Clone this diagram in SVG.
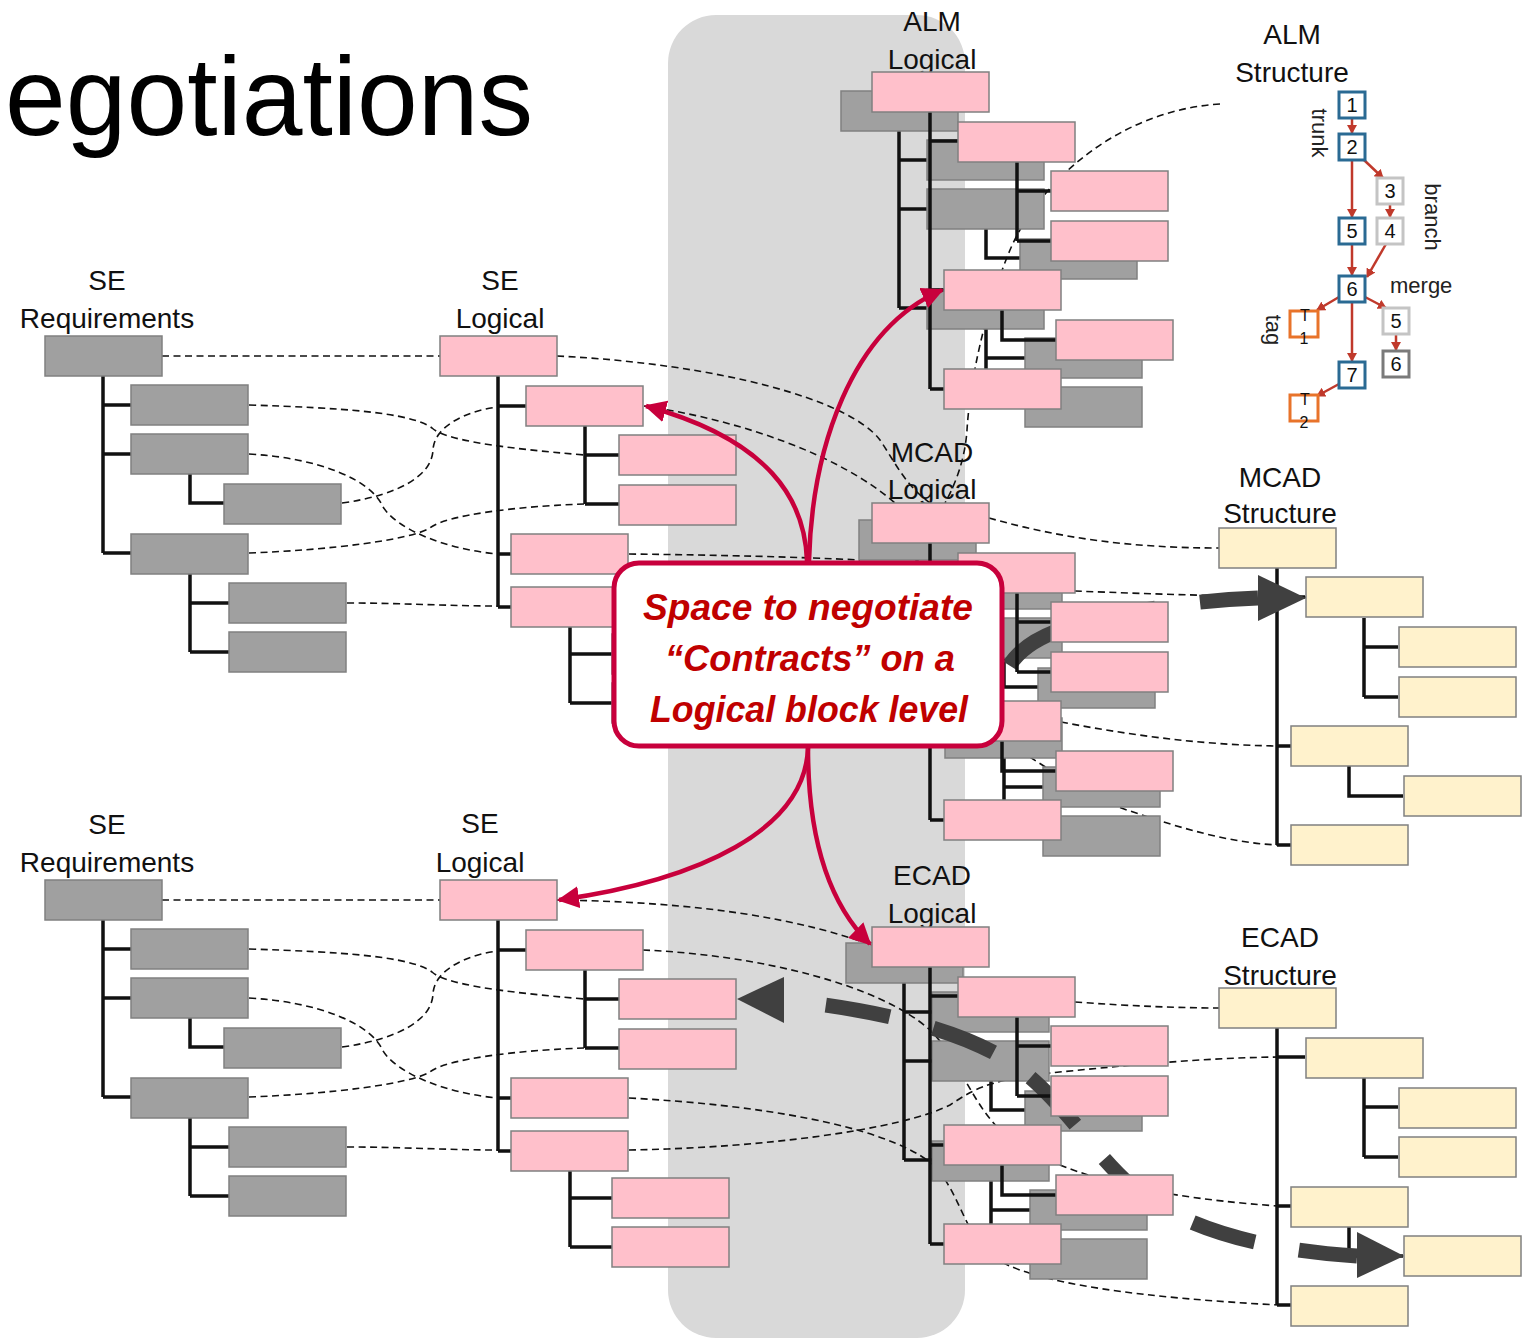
<svg xmlns="http://www.w3.org/2000/svg" width="1537" height="1340" viewBox="0 0 1537 1340">
<style>
.g{fill:#A0A0A0;stroke:#808080;stroke-width:1.5}
.p{fill:#FFC0CB;stroke:#808080;stroke-width:1.5}
.y{fill:#FFF2CC;stroke:#808080;stroke-width:1.5}
.t{fill:none;stroke:#111;stroke-width:3.5}
.d{fill:none;stroke:#111;stroke-width:1.6;stroke-dasharray:7 4.5}
.lb{font-family:"Liberation Sans",Arial,sans-serif;font-size:28px;text-anchor:middle;fill:#111}
.big{fill:none;stroke:#404040;stroke-width:15}
.bh{fill:#404040}
.ra{fill:none;stroke:#C8003C;stroke-width:4.5}
.vb{fill:#fff;stroke:#2A6A93;stroke-width:3}
.vl{fill:#fff;stroke:#C4C4C4;stroke-width:3}
.vd{fill:#fff;stroke:#7A7A7A;stroke-width:3}
.vo{fill:#fff;stroke:#E8732A;stroke-width:3}
.vt{font-family:"Liberation Sans",Arial,sans-serif;font-size:20px;text-anchor:middle;fill:#111}
.vs{font-family:"Liberation Sans",Arial,sans-serif;font-size:16px;text-anchor:middle;fill:#111}
.vw{font-family:"Liberation Sans",Arial,sans-serif;font-size:22px;fill:#222}
.va{fill:none;stroke:#C0392B;stroke-width:2.5}
.co{font-family:"Liberation Sans",Arial,sans-serif;font-size:36px;font-weight:bold;font-style:italic;fill:#C00000;text-anchor:middle}
</style>
<defs>
<marker id="mr" markerUnits="userSpaceOnUse" markerWidth="24" markerHeight="22" refX="20" refY="11" orient="auto"><path d="M0,0 L22,11 L0,22 Z" fill="#C8003C"/></marker>
<marker id="mv" markerUnits="userSpaceOnUse" markerWidth="10" markerHeight="10" refX="8" refY="5" orient="auto"><path d="M0,0 L9,5 L0,10 Z" fill="#C0392B"/></marker>
</defs>
<rect x="0" y="0" width="1537" height="1340" fill="#fff"/>
<rect id="band" x="668" y="15" width="297" height="1323" rx="48" fill="#D9D9D9"/>

<text x="5" y="135" font-family="Liberation Sans, Arial, sans-serif" font-size="112" textLength="528" lengthAdjust="spacingAndGlyphs" fill="#000">egotiations</text>

<g id="labels">
<text class="lb" x="107" y="290">SE</text><text class="lb" x="107" y="328">Requirements</text>
<text class="lb" x="500" y="290">SE</text><text class="lb" x="500" y="328">Logical</text>
<text class="lb" x="932" y="31">ALM</text><text class="lb" x="932" y="69">Logical</text>
<text class="lb" x="1292" y="44">ALM</text><text class="lb" x="1292" y="82">Structure</text>
<text class="lb" x="932" y="462">MCAD</text><text class="lb" x="932" y="499">Logical</text>
<text class="lb" x="1280" y="487">MCAD</text><text class="lb" x="1280" y="523">Structure</text>
<text class="lb" x="107" y="834">SE</text><text class="lb" x="107" y="872">Requirements</text>
<text class="lb" x="480" y="833">SE</text><text class="lb" x="480" y="872">Logical</text>
<text class="lb" x="932" y="885">ECAD</text><text class="lb" x="932" y="923">Logical</text>
<text class="lb" x="1280" y="947">ECAD</text><text class="lb" x="1280" y="985">Structure</text>
</g>

<g id="connectors">
<g id="req-log-top">
<path class="d" d="M162,356 L440,356"/>
<path class="d" d="M249,405 C340,408 410,412 432,428 C445,440 500,448 585,455"/>
<path class="d" d="M342,503 C400,495 432,475 433,450 C434,425 470,410 498,407"/>
<path class="d" d="M249,454 C320,458 370,480 382,505 C395,530 450,550 498,554"/>
<path class="d" d="M249,553 C330,550 410,540 430,528 C445,515 520,506 585,504"/>
<path class="d" d="M347,603 C400,603 450,606 498,606"/>
</g>
<g id="req-log-bottom" transform="translate(0,544)">
<path class="d" d="M162,356 L440,356"/>
<path class="d" d="M249,405 C340,408 410,412 432,428 C445,440 500,448 585,455"/>
<path class="d" d="M342,503 C400,495 432,475 433,450 C434,425 470,410 498,407"/>
<path class="d" d="M249,454 C320,458 370,480 382,505 C395,530 450,550 498,554"/>
<path class="d" d="M249,553 C330,550 410,540 430,528 C445,515 520,506 585,504"/>
<path class="d" d="M347,603 C400,603 450,606 498,606"/>
</g>
<path class="d" d="M557,356 C720,364 850,400 880,440 C895,462 905,485 930,503"/>
<path class="d" d="M644,406 C740,420 840,455 895,503"/>
<path class="d" d="M629,554 C720,555 800,557 860,560"/>
<path class="d" d="M1220,104 C1120,110 1040,180 1010,250 C985,310 970,380 967,430 C965,460 955,485 945,503"/>
<path class="d" d="M989,518 C1060,538 1130,548 1219,548"/>
<path class="d" d="M1075,591 C1150,594 1250,597 1306,597"/>
<path class="d" d="M1061,722 C1130,735 1200,745 1278,746"/>
<path class="d" d="M1000,740 C1040,760 1080,795 1127,810 C1180,828 1230,843 1278,845"/>
<path class="d" d="M557,900 C700,902 800,918 880,948"/>
<path class="d" d="M643,950 C760,955 880,985 930,1030 C960,1060 970,1100 1000,1130 C1040,1165 1120,1195 1278,1206"/>
<path class="d" d="M629,1098 C760,1105 880,1125 930,1162 C960,1190 960,1225 990,1255 C1030,1285 1150,1298 1278,1305"/>
<path class="d" d="M629,1150 C760,1148 900,1130 950,1105 C970,1092 985,1080 1050,1073 C1120,1066 1200,1058 1278,1057"/>
<path class="d" d="M1075,1002 C1130,1006 1180,1008 1219,1008"/>
</g>

<g id="se-req-top" transform="translate(45,336)">
<path class="t" d="M58,40V217M58,69H86M58,118H86M58,217H86M145,138V167H179M145,237V316M145,267H184M145,316H184"/>
<rect class="g" x="0" y="0" width="117" height="40"/><rect class="g" x="86" y="49" width="117" height="40"/><rect class="g" x="86" y="98" width="117" height="40"/><rect class="g" x="179" y="148" width="117" height="40"/><rect class="g" x="86" y="198" width="117" height="40"/><rect class="g" x="184" y="247" width="117" height="40"/><rect class="g" x="184" y="296" width="117" height="40"/>
</g>
<g id="se-req-bottom" transform="translate(45,880)">
<path class="t" d="M58,40V217M58,69H86M58,118H86M58,217H86M145,138V167H179M145,237V316M145,267H184M145,316H184"/>
<rect class="g" x="0" y="0" width="117" height="40"/><rect class="g" x="86" y="49" width="117" height="40"/><rect class="g" x="86" y="98" width="117" height="40"/><rect class="g" x="179" y="148" width="117" height="40"/><rect class="g" x="86" y="198" width="117" height="40"/><rect class="g" x="184" y="247" width="117" height="40"/><rect class="g" x="184" y="296" width="117" height="40"/>
</g>
<g id="se-log-top" transform="translate(440,336)">
<path class="t" d="M58,40V271M58,70H86M58,218H71M58,271H71M145,89V168M145,119H179M145,168H179M130,291V367M130,318H172M130,367H172"/>
<rect class="p" x="0" y="0" width="117" height="40"/><rect class="p" x="86" y="50" width="117" height="40"/><rect class="p" x="179" y="99" width="117" height="40"/><rect class="p" x="179" y="149" width="117" height="40"/><rect class="p" x="71" y="198" width="117" height="40"/><rect class="p" x="71" y="251" width="117" height="40"/><rect class="p" x="172" y="298" width="117" height="40"/><rect class="p" x="172" y="347" width="117" height="40"/>
</g>
<g id="se-log-bottom" transform="translate(440,880)">
<path class="t" d="M58,40V271M58,70H86M58,218H71M58,271H71M145,89V168M145,119H179M145,168H179M130,291V367M130,318H172M130,367H172"/>
<rect class="p" x="0" y="0" width="117" height="40"/><rect class="p" x="86" y="50" width="117" height="40"/><rect class="p" x="179" y="99" width="117" height="40"/><rect class="p" x="179" y="149" width="117" height="40"/><rect class="p" x="71" y="198" width="117" height="40"/><rect class="p" x="71" y="251" width="117" height="40"/><rect class="p" x="172" y="298" width="117" height="40"/><rect class="p" x="172" y="347" width="117" height="40"/>
</g>

<g id="alm-grey" transform="translate(841,91)">
<path class="t" d="M58,40V217M58,69H86M58,118H86M58,217H86M145,138V167H179M145,237V316M145,267H184M145,316H184"/>
<rect class="g" x="0" y="0" width="117" height="40"/><rect class="g" x="86" y="49" width="117" height="40"/><rect class="g" x="86" y="98" width="117" height="40"/><rect class="g" x="179" y="148" width="117" height="40"/><rect class="g" x="86" y="198" width="117" height="40"/><rect class="g" x="184" y="247" width="117" height="40"/><rect class="g" x="184" y="296" width="117" height="40"/>
</g>
<g id="mcad-grey" transform="translate(859,520)">
<path class="t" d="M58,40V217M58,69H86M58,118H86M58,217H86M145,138V167H179M145,237V316M145,267H184M145,316H184"/>
<rect class="g" x="0" y="0" width="117" height="40"/><rect class="g" x="86" y="49" width="117" height="40"/><rect class="g" x="86" y="98" width="117" height="40"/><rect class="g" x="179" y="148" width="117" height="40"/><rect class="g" x="86" y="198" width="117" height="40"/><rect class="g" x="184" y="247" width="117" height="40"/><rect class="g" x="184" y="296" width="117" height="40"/>
</g>
<g id="ecad-grey" transform="translate(846,943)">
<path class="t" d="M58,40V217M58,69H86M58,118H86M58,217H86M145,138V167H179M145,237V316M145,267H184M145,316H184"/>
<rect class="g" x="0" y="0" width="117" height="40"/><rect class="g" x="86" y="49" width="117" height="40"/><rect class="g" x="86" y="98" width="117" height="40"/><rect class="g" x="179" y="148" width="117" height="40"/><rect class="g" x="86" y="198" width="117" height="40"/><rect class="g" x="184" y="247" width="117" height="40"/><rect class="g" x="184" y="296" width="117" height="40"/>
</g>

<g id="mcad-structure" transform="translate(1219,528)">
<path class="t" d="M58,40V317M58,69H86M58,218H72M58,317H72M145,90V169M145,119H179M145,169H179M130,238V268H184"/>
<rect class="y" x="0" y="0" width="117" height="40"/><rect class="y" x="87" y="49" width="117" height="40"/><rect class="y" x="180" y="99" width="117" height="40"/><rect class="y" x="180" y="149" width="117" height="40"/><rect class="y" x="72" y="198" width="117" height="40"/><rect class="y" x="185" y="248" width="117" height="40"/><rect class="y" x="72" y="297" width="117" height="40"/>
</g>
<g id="ecad-structure" transform="translate(1219,988)">
<path class="t" d="M58,40V317M58,69H86M58,218H72M58,317H72M145,90V169M145,119H179M145,169H179M130,238V268H184"/>
<rect class="y" x="0" y="0" width="117" height="40"/><rect class="y" x="87" y="50" width="117" height="40"/><rect class="y" x="180" y="100" width="117" height="40"/><rect class="y" x="180" y="149" width="117" height="40"/><rect class="y" x="72" y="199" width="117" height="40"/><rect class="y" x="185" y="248" width="117" height="40"/><rect class="y" x="72" y="298" width="117" height="40"/>
</g>

<g id="thick-arrows">
<path class="big" d="M1258,598 C1200,600 1150,608 1100,619 C1040,632 1008,650 1000,690" style="stroke-dasharray:58 45"/>
<polygon class="bh" points="1258,575 1306,598 1258,621"/>
<path class="big" d="M784,1000 C880,1010 960,1030 1010,1062 C1060,1095 1090,1150 1130,1185 C1180,1228 1260,1250 1357,1256" style="stroke-dasharray:65 45;stroke-dashoffset:68"/>
<polygon class="bh" points="784,977 737,999 784,1023"/>
<polygon class="bh" points="1357,1232 1404,1256 1357,1278"/>
</g>

<g id="alm-logical" transform="translate(872,72)">
<path class="t" d="M58,40V317M58,69H86M58,218H72M58,317H72M145,90V169M145,119H179M145,169H179M130,238V268H184"/>
<rect class="p" x="0" y="0" width="117" height="40"/><rect class="p" x="86" y="50" width="117" height="40"/><rect class="p" x="179" y="99" width="117" height="40"/><rect class="p" x="179" y="149" width="117" height="40"/><rect class="p" x="72" y="198" width="117" height="40"/><rect class="p" x="184" y="248" width="117" height="40"/><rect class="p" x="72" y="297" width="117" height="40"/>
</g>
<g id="mcad-logical" transform="translate(872,503)">
<path class="t" d="M58,40V317M58,69H86M58,218H72M58,317H72M145,90V169M145,119H179M145,169H179M130,238V268H184"/>
<rect class="p" x="0" y="0" width="117" height="40"/><rect class="p" x="86" y="50" width="117" height="40"/><rect class="p" x="179" y="99" width="117" height="40"/><rect class="p" x="179" y="149" width="117" height="40"/><rect class="p" x="72" y="198" width="117" height="40"/><rect class="p" x="184" y="248" width="117" height="40"/><rect class="p" x="72" y="297" width="117" height="40"/>
</g>
<g id="ecad-logical" transform="translate(872,927)">
<path class="t" d="M58,40V317M58,69H86M58,218H72M58,317H72M145,90V169M145,119H179M145,169H179M130,238V268H184"/>
<rect class="p" x="0" y="0" width="117" height="40"/><rect class="p" x="86" y="50" width="117" height="40"/><rect class="p" x="179" y="99" width="117" height="40"/><rect class="p" x="179" y="149" width="117" height="40"/><rect class="p" x="72" y="198" width="117" height="40"/><rect class="p" x="184" y="248" width="117" height="40"/><rect class="p" x="72" y="297" width="117" height="40"/>
</g>

<g id="alm-structure">
<g id="vg-arrows">
<path class="va" marker-end="url(#mv)" d="M1352,118 L1352,133"/>
<path class="va" marker-end="url(#mv)" d="M1364,160 L1383,178"/>
<path class="va" marker-end="url(#mv)" d="M1352,160 L1352,217"/>
<path class="va" marker-end="url(#mv)" d="M1390,204 L1390,217"/>
<path class="va" marker-end="url(#mv)" d="M1352,244 L1352,275"/>
<path class="va" marker-end="url(#mv)" d="M1386,244 L1367,277"/>
<path class="va" marker-end="url(#mv)" d="M1339,297 L1317,310"/>
<path class="va" marker-end="url(#mv)" d="M1365,297 L1386,308"/>
<path class="va" marker-end="url(#mv)" d="M1396,334 L1396,350"/>
<path class="va" marker-end="url(#mv)" d="M1352,302 L1352,361"/>
<path class="va" marker-end="url(#mv)" d="M1339,384 L1317,396"/>
</g>
<g id="v1"><rect class="vb" x="1339" y="92" width="26" height="26"/><text class="vt" x="1352" y="112">1</text></g>
<g id="v2"><rect class="vb" x="1339" y="134" width="26" height="26"/><text class="vt" x="1352" y="154">2</text></g>
<g id="v3"><rect class="vl" x="1377" y="178" width="26" height="26"/><text class="vt" x="1390" y="198">3</text></g>
<g id="v4"><rect class="vl" x="1377" y="218" width="26" height="26"/><text class="vt" x="1390" y="238">4</text></g>
<g id="v5"><rect class="vb" x="1339" y="218" width="26" height="26"/><text class="vt" x="1352" y="238">5</text></g>
<g id="v6"><rect class="vb" x="1339" y="276" width="26" height="26"/><text class="vt" x="1352" y="296">6</text></g>
<g id="vt1"><rect class="vo" x="1290" y="311" width="28" height="26"/><text class="vs" x="1305" y="321">T</text><text class="vs" x="1304" y="344">1</text></g>
<g id="v5b"><rect class="vl" x="1383" y="308" width="26" height="26"/><text class="vt" x="1396" y="328">5</text></g>
<g id="v6b"><rect class="vd" x="1383" y="351" width="26" height="26"/><text class="vt" x="1396" y="371">6</text></g>
<g id="v7"><rect class="vb" x="1339" y="362" width="26" height="26"/><text class="vt" x="1352" y="382">7</text></g>
<g id="vt2"><rect class="vo" x="1290" y="395" width="28" height="26"/><text class="vs" x="1305" y="405">T</text><text class="vs" x="1304" y="428">2</text></g>
<text class="vw" text-anchor="middle" transform="translate(1319,133) rotate(90)" dy="7">trunk</text>
<text class="vw" text-anchor="middle" transform="translate(1432,217) rotate(90)" dy="7">branch</text>
<text class="vw" text-anchor="middle" transform="translate(1273,330) rotate(90)" dy="7">tag</text>
<text class="vw" x="1390" y="293">merge</text>
</g>

<g id="callout">
<rect x="614" y="563" width="388" height="183" rx="25" fill="#fff" stroke="#C8003C" stroke-width="5"/>
<text class="co" x="808" y="620" textLength="330" lengthAdjust="spacingAndGlyphs">Space to negotiate</text>
<text class="co" x="810" y="671" textLength="290" lengthAdjust="spacingAndGlyphs">“Contracts” on a</text>
<text class="co" x="809" y="722" textLength="318" lengthAdjust="spacingAndGlyphs">Logical block level</text>
</g>
<g id="red-arrows">
<path class="ra" marker-end="url(#mr)" d="M807,561 C805,500 770,440 646,406"/>
<path class="ra" marker-end="url(#mr)" d="M809,561 C812,450 850,330 942,290"/>
<path class="ra" marker-end="url(#mr)" d="M808,748 C805,830 700,880 559,900"/>
<path class="ra" marker-end="url(#mr)" d="M808,748 C808,830 825,900 870,944"/>
</g>
</svg>
